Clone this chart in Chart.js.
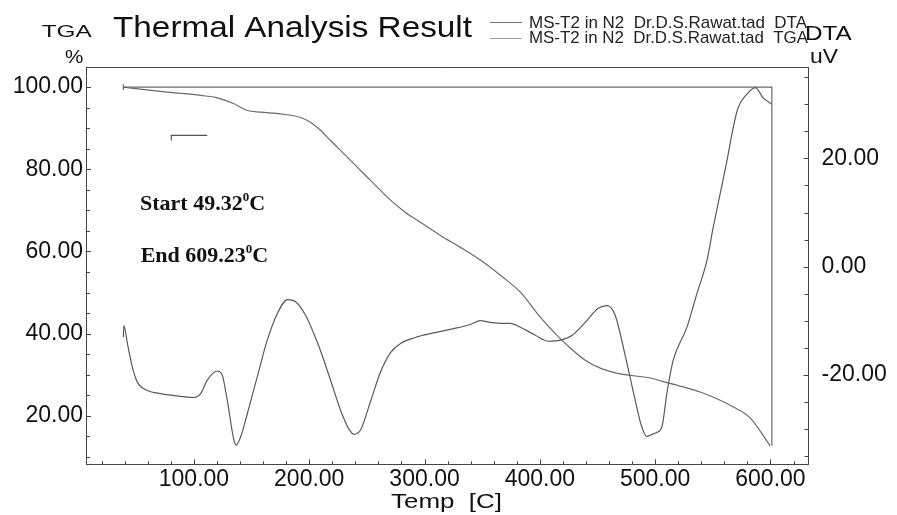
<!DOCTYPE html>
<html>
<head>
<meta charset="utf-8">
<script src="https://cdn.jsdelivr.net/npm/chart.js@4.4.0/dist/chart.umd.min.js"></script>
<style>
  html, body { margin: 0; padding: 0; background: #fff; }
  canvas { display: block; }
</style>
</head>
<body>
<canvas id="chart" width="897" height="515"></canvas>
<script>
// tick labels
const xTicks = [100, 200, 300, 400, 500, 600];
const tgaTicks = [20, 40, 60, 80, 100];
const dtaTicks = [-20, 0, 20];

// DTA curve (temperature C, uV)
const dtaTemp = [38.8, 39.3, 42.3, 46.6, 51.0, 59.6, 71.1, 88.4, 100, 105.8, 111.6, 120.3, 124.6, 128.9,
  134.7, 136.7, 140.5, 146.3, 154.9, 163.6, 172.3, 181.2, 188.1, 196.8, 208.1, 218.5, 227.1, 234.1,
  238.7, 244.5, 253.5, 261.8, 270.5, 279.2, 292.1, 305.1, 322.4, 339.8, 348.4, 357.1, 365.8, 374.4,
  383.1, 396.1, 407.3, 417.7, 428.1, 439.4, 450.6, 458.4, 465.3, 474.0, 482.7, 487.9, 492.6, 497.5,
  500.9, 505.9, 510.2, 515.7, 527.6, 536.2, 544.9, 550.3, 556.4, 562.2, 567.7, 572.0, 579.6, 586.8,
  593.7, 601.2];
const dtaUv = [-13.0, -10.9, -14.2, -18.6, -21.4, -22.9, -23.5, -24.0, -24.2, -23.5, -21.0, -19.3, -20.1, -24.7,
  -32.1, -33.0, -31.5, -27.2, -20.4, -13.6, -8.7, -6.1, -6.5, -9.0, -14.6, -21.0, -26.5, -29.9,
  -31.0, -30.2, -24.7, -19.5, -15.9, -14.2, -13.1, -12.4, -11.6, -10.7, -10.0, -10.3, -10.5, -10.5,
  -11.2, -12.7, -13.8, -13.6, -12.7, -10.3, -7.7, -7.2, -9.0, -16.4, -24.7, -29.3, -31.4, -31.0,
  -30.7, -29.6, -23.4, -17.3, -11.2, -5.0, 1.1, 7.2, 13.5, 19.5, 25.7, 29.4, 31.9, 33.1,
  31.2, 30.0];

// TGA curve (temperature C, %)
const tgaTemp = [38.8, 76.9, 105.8, 118.8, 126.0, 134.4, 140.5, 146.3, 157.8, 175.1, 192.5, 201.4, 209.8,
  218.5, 231.5, 244.5, 257.5, 270.5, 283.5, 296.4, 313.8, 331.1, 348.4, 365.8, 383.1, 400.4, 413.4,
  426.4, 439.4, 452.4, 469.7, 495.7, 511.3, 539.0, 567.6, 582.4, 599.7];
const tgaPct = [100, 98.8, 98.0, 97.5, 96.9, 96.0, 95.1, 94.3, 93.9, 93.5, 92.6, 91.4, 89.5,
  87.0, 83.4, 79.7, 76.1, 72.5, 69.5, 67.1, 63.9, 61.0, 57.9, 54.2, 50.1, 44.0, 40.0,
  36.5, 33.5, 31.6, 30.2, 29.2, 28.0, 25.8, 22.2, 19.5, 12.7];

// step lines drawn by the analysis software
const stepTemp = [38.8, 601.2, 601.2];
const stepPct = [100, 100, 12.7];
const startTemp = [38.8, 38.8];
const startPct = [100.7, 99.3];
const markTemp = [80.4, 80.4, 111.6];
const markPct = [87.0, 88.26, 88.26];

function pts(xs, ys) {
  return xs.map((x, i) => ({ x, y: ys[i] }));
}

// text squeezed/stretched to the measured width
function fitText(ctx, s, x, y, font, w, color) {
  ctx.save();
  ctx.font = font;
  ctx.fillStyle = color || "#111";
  ctx.textBaseline = "alphabetic";
  ctx.textAlign = "left";
  const m = ctx.measureText(s).width;
  ctx.translate(x, y);
  ctx.scale(w / m, 1);
  ctx.fillText(s, 0, 0);
  ctx.restore();
}

function line(ctx, x1, y1, x2, y2) {
  ctx.beginPath();
  ctx.moveTo(x1, y1);
  ctx.lineTo(x2, y2);
  ctx.stroke();
}

const decor = {
  id: "decor",
  afterDraw(chart) {
    const ctx = chart.ctx;
    const a = chart.chartArea;
    const sx = chart.scales.x, sy = chart.scales.y, sy2 = chart.scales.y2;

    ctx.save();
    ctx.strokeStyle = "#444";
    ctx.lineWidth = 1;
    line(ctx, a.left, a.top + 0.5, a.right, a.top + 0.5);

    // inward tick marks
    for (let v = 10; v <= 105; v += 5) {
      const y = Math.round(sy.getPixelForValue(v)) + 0.5;
      line(ctx, a.left, y, a.left + (v % 20 === 0 ? 5 : 4), y);
    }
    for (let v = -35; v <= 35; v += 5) {
      const y = Math.round(sy2.getPixelForValue(v)) + 0.5;
      line(ctx, a.right, y, a.right - (v % 20 === 0 ? 5 : 4), y);
    }
    for (let v = 20; v <= 620; v += 20) {
      const x = Math.round(sx.getPixelForValue(v)) + 0.5;
      line(ctx, x, a.bottom, x, a.bottom - (v % 100 === 0 ? 5 : 3));
    }

    // legend
    ctx.strokeStyle = "#777";
    line(ctx, 490, 22.5, 522, 22.5);
    ctx.strokeStyle = "#9a9a9a";
    line(ctx, 490, 38.5, 522, 38.5);
    ctx.restore();

    fitText(ctx, "Thermal Analysis Result", 113, 36.7, "30px 'Liberation Sans'", 359);
    fitText(ctx, "TGA", 41.7, 36.7, "17px 'Liberation Sans'", 50);
    fitText(ctx, "%", 65, 63.3, "19px 'Liberation Sans'", 18.3);
    fitText(ctx, "MS-T2 in N2  Dr.D.S.Rawat.tad  DTA", 529, 28.3, "17px 'Liberation Sans'", 278, "#222");
    fitText(ctx, "MS-T2 in N2  Dr.D.S.Rawat.tad  TGA", 529, 43.3, "17px 'Liberation Sans'", 279, "#222");
    fitText(ctx, "DTA", 805, 40, "21px 'Liberation Sans'", 46.7);
    fitText(ctx, "uV", 810, 63.3, "19.5px 'Liberation Sans'", 28);
    fitText(ctx, "Temp  [C]", 391, 508, "21px 'Liberation Sans'", 111);

    // annotations
    ctx.save();
    ctx.fillStyle = "#111";
    ctx.textBaseline = "alphabetic";
    const notes = [["Start 49.32", 140, 210], ["End 609.23", 140.7, 261.7]];
    notes.forEach(([s, x, y]) => {
      ctx.font = "bold 22px 'Liberation Serif'";
      ctx.fillText(s, x, y);
      let w = ctx.measureText(s).width;
      ctx.font = "bold 13px 'Liberation Serif'";
      ctx.fillText("0", x + w, y - 9);
      w += ctx.measureText("0").width;
      ctx.font = "bold 22px 'Liberation Serif'";
      ctx.fillText("C", x + w, y);
    });
    ctx.restore();
  }
};

const tickFont = { family: "'Liberation Sans'", size: 23 };

new Chart(document.getElementById("chart"), {
  type: "scatter",
  data: {
    datasets: [
      {
        label: "DTA",
        data: pts(dtaTemp, dtaUv),
        yAxisID: "y2",
        showLine: true,
        borderColor: "#5a5a5a",
        borderWidth: 1.2,
        pointRadius: 0,
        cubicInterpolationMode: "monotone"
      },
      {
        label: "TGA",
        data: pts(tgaTemp, tgaPct),
        yAxisID: "y",
        showLine: true,
        borderColor: "#6a6a6a",
        borderWidth: 1.2,
        pointRadius: 0,
        cubicInterpolationMode: "monotone"
      },
      {
        label: "step",
        data: pts(stepTemp, stepPct),
        yAxisID: "y",
        showLine: true,
        borderColor: "#6a6a6a",
        borderWidth: 1.2,
        pointRadius: 0
      },
      {
        label: "start",
        data: pts(startTemp, startPct),
        yAxisID: "y",
        showLine: true,
        borderColor: "#6a6a6a",
        borderWidth: 1.2,
        pointRadius: 0
      },
      {
        label: "mark",
        data: pts(markTemp, markPct),
        yAxisID: "y",
        showLine: true,
        borderColor: "#555",
        borderWidth: 1.2,
        pointRadius: 0
      }
    ]
  },
  options: {
    responsive: false,
    animation: false,
    devicePixelRatio: 1,
    layout: { padding: { top: 67, left: 0, right: 0, bottom: 0 } },
    plugins: {
      legend: { display: false },
      title: { display: false },
      tooltip: { enabled: false }
    },
    scales: {
      x: {
        type: "linear",
        min: 6.4,
        max: 633,
        afterBuildTicks: s => { s.ticks = xTicks.map(v => ({ value: v })); },
        afterFit: s => { s.height = 50.7; },
        grid: { display: false, drawTicks: false },
        border: { display: true, color: "#444", width: 1 },
        ticks: { color: "#111", font: tickFont, padding: 2, maxRotation: 0, callback: v => v.toFixed(2) }
      },
      y: {
        type: "linear",
        position: "left",
        min: 8.2,
        max: 104.9,
        afterBuildTicks: s => { s.ticks = tgaTicks.map(v => ({ value: v })); },
        afterFit: s => { s.width = 86; },
        grid: { display: false, drawTicks: false },
        border: { display: true, color: "#444", width: 1 },
        ticks: { color: "#111", font: tickFont, padding: 3, callback: v => v.toFixed(2) }
      },
      y2: {
        type: "linear",
        position: "right",
        min: -36.55,
        max: 36.9,
        afterBuildTicks: s => { s.ticks = dtaTicks.map(v => ({ value: v })); },
        afterFit: s => { s.width = 88.5; },
        grid: { display: false, drawTicks: false },
        border: { display: true, color: "#444", width: 1 },
        ticks: { color: "#111", font: tickFont, padding: 13, callback: v => v.toFixed(2) }
      }
    }
  },
  plugins: [decor]
});
</script>
</body>
</html>
